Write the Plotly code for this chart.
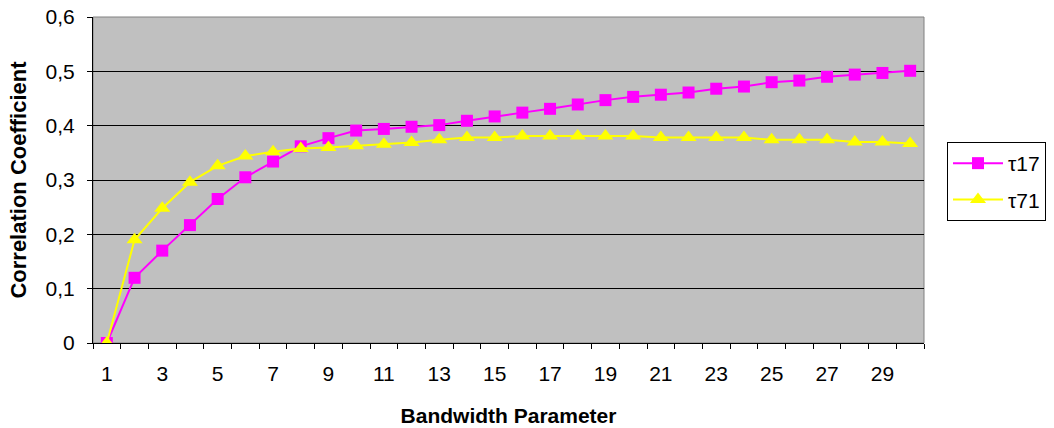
import plotly.graph_objects as go

# Bandwidth parameter values (x categories)
bandwidth = list(range(1, 31))

# Correlation coefficient for each series
tau17 = [0.000, 0.120, 0.170, 0.217, 0.265, 0.305, 0.334, 0.362, 0.377, 0.391,
         0.394, 0.398, 0.401, 0.409, 0.417, 0.424, 0.431, 0.439, 0.447, 0.453,
         0.457, 0.461, 0.468, 0.472, 0.480, 0.483, 0.490, 0.494, 0.497, 0.501]
tau71 = [0.000, 0.190, 0.248, 0.296, 0.326, 0.344, 0.352, 0.358, 0.360, 0.363,
         0.366, 0.369, 0.374, 0.378, 0.378, 0.381, 0.381, 0.381, 0.381, 0.381,
         0.378, 0.378, 0.378, 0.378, 0.374, 0.374, 0.374, 0.370, 0.370, 0.367]

x_ticks = list(range(1, 30, 2))
y_ticks = [0, 0.1, 0.2, 0.3, 0.4, 0.5, 0.6]
y_labels = ["0", "0,1", "0,2", "0,3", "0,4", "0,5", "0,6"]

FONT = "Liberation Sans, Arial, sans-serif"

fig = go.Figure()
fig.add_trace(go.Scatter(
    x=bandwidth, y=tau17, name="τ17", mode="lines+markers", legendgroup="a",
    line=dict(color="#FF00FF", width=2),
    marker=dict(symbol="square", size=12, color="#FF00FF"),
))
fig.add_trace(go.Scatter(
    x=bandwidth, y=tau71, name="τ71", mode="lines+markers", legendgroup="b",
    line=dict(color="#FFFF00", width=2),
    marker=dict(symbol="triangle-up", size=14, color="#FFFF00"),
))

# gray frame around the plot area (top and right edges)
fig.add_shape(type="rect", xref="paper", yref="paper", x0=0, y0=0, x1=1, y1=1,
              line=dict(color="#808080", width=1), layer="below")

fig.update_layout(
    width=1054, height=428,
    margin=dict(l=93, r=130, t=17, b=85),
    paper_bgcolor="white",
    plot_bgcolor="#C0C0C0",
    separators=",.",
    font=dict(family=FONT, size=21, color="black"),
    showlegend=True,
    legend=dict(
        xref="container", yref="container",
        x=947 / 1054, y=1 - 142 / 428, xanchor="left", yanchor="top",
        bordercolor="black", borderwidth=1, bgcolor="white",
        font=dict(family=FONT, size=21),
        itemwidth=50, tracegroupgap=6, traceorder="grouped",
    ),
)

fig.update_xaxes(
    range=[0.5, 30.5], tickmode="array", tickvals=x_ticks,
    ticktext=[str(v) for v in x_ticks], automargin=False,
    ticks="", showgrid=False, zeroline=False,
    showline=True, linecolor="black", linewidth=1,
    minor=dict(tick0=0.5, dtick=1, ticks="outside", ticklen=5,
               tickcolor="black", showgrid=False),
    tickfont=dict(size=21), ticklabelstandoff=12,
    title=dict(text="<b>Bandwidth Parameter</b>", font=dict(size=21), standoff=24),
)
fig.update_yaxes(
    range=[0, 0.6], tickmode="array", tickvals=y_ticks, ticktext=y_labels,
    automargin=False,
    ticks="outside", ticklen=5, tickcolor="black",
    showgrid=True, gridcolor="black", gridwidth=1, zeroline=False,
    showline=True, linecolor="black", linewidth=1,
    tickfont=dict(size=21), ticklabelstandoff=8,
    title=dict(text="<b>Correlation Coefficient</b>", font=dict(size=22), standoff=12),
)

fig.write_html("out.html")
